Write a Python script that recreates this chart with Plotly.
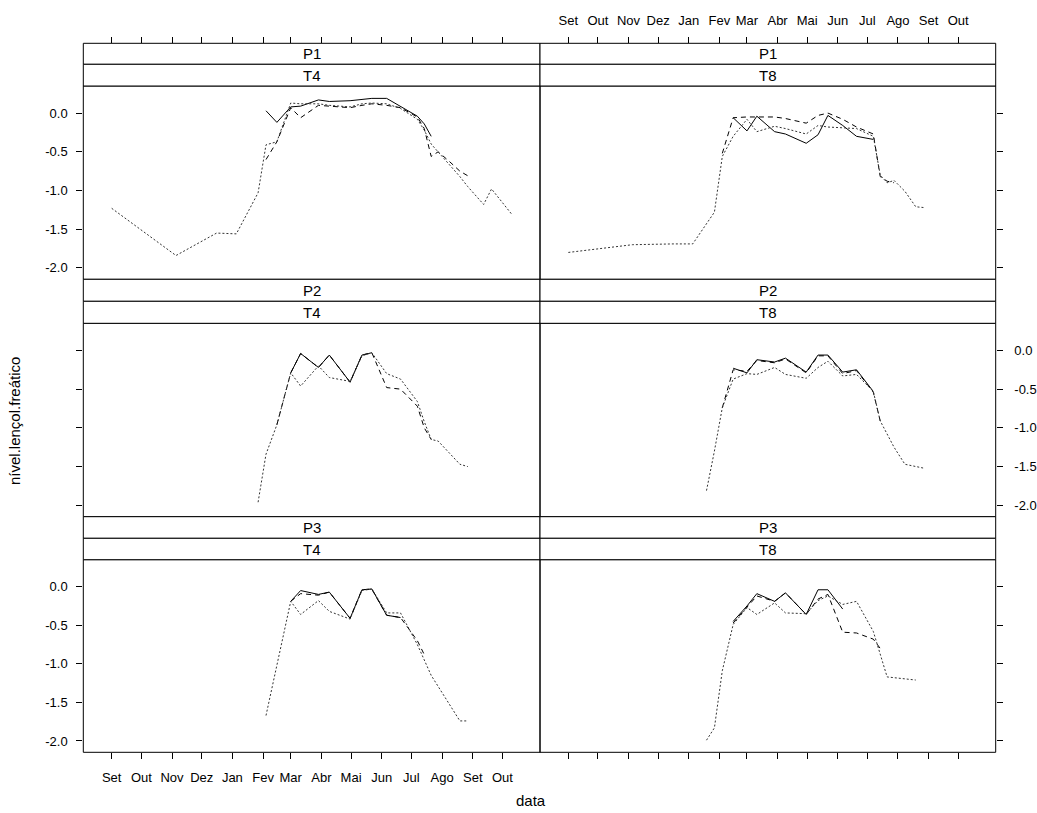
import plotly.graph_objects as go

W, H = 1037, 813
N = None

# sampling dates (common grid)
datas = [
    "2008-09-01", "2008-11-05", "2008-12-16", "2009-01-05", "2009-01-19",
    "2009-01-27", "2009-02-04", "2009-02-15", "2009-03-01", "2009-03-11",
    "2009-03-29", "2009-04-09", "2009-04-30", "2009-05-12", "2009-05-22",
    "2009-06-06", "2009-06-20", "2009-07-07", "2009-07-14", "2009-07-21",
    "2009-07-28", "2009-08-08", "2009-08-19", "2009-08-27", "2009-09-12",
    "2009-09-20", "2009-10-10",
]

meses_tick = ["2008-09-01", "2008-10-01", "2008-11-01", "2008-12-01", "2009-01-01",
              "2009-02-01", "2009-03-01", "2009-04-01", "2009-05-01", "2009-06-01",
              "2009-07-01", "2009-08-01", "2009-09-01", "2009-10-01"]
meses_rot = ["Set", "Out", "Nov", "Dez", "Jan", "Fev", "Mar", "Abr", "Mai", "Jun",
             "Jul", "Ago", "Set", "Out"]

y_tick = [0.0, -0.5, -1.0, -1.5, -2.0]
y_rot = ["0.0", "-0.5", "-1.0", "-1.5", "-2.0"]

parcelas = ["P1", "P2", "P3"]
tratamentos = ["T4", "T8"]

#                 0    1      2      3      4      5      6      7      8      9      10     11     12     13     14     15     16     17     18     19     20     21     22     23     24     25     26
p1_t4_s1 = [N,    N,     N,     N,     N,     N,     0.03, -0.12,  0.08,  0.09,  0.17,  0.15,  0.16,  0.18,  0.19,  0.19,  0.09, -0.04, -0.14, -0.30,  N,     N,     N,     N,     N,     N,     N]
p1_t4_s2 = [N,    N,     N,     N,     N,     N,    -0.60, -0.37,  0.07, -0.06,  0.10,  0.09,  0.07,  0.10,  0.12,  0.10,  0.07, -0.05, -0.20, -0.56, -0.50, -0.62, -0.75, -0.81,  N,     N,     N]
p1_t4_s3 = [-1.23, -1.84, -1.55, -1.56, N,    -1.03, -0.41, -0.37,  0.13,  0.12,  0.12,  0.10,  0.08,  0.12,  0.13,  0.12,  0.06, -0.08, -0.22, -0.40, -0.50, -0.65, -0.82, -0.95, -1.18, -0.98, -1.30]

p1_t8_s1 = [N,    N,     N,     N,     N,     N,     N,    -0.06, -0.23, -0.04, -0.24, -0.27, -0.39, -0.28, -0.03, -0.16, -0.30, -0.34,  N,     N,     N,     N,     N,     N,     N,     N,     N]
p1_t8_s2 = [N,    N,     N,     N,     N,     N,    -0.52, -0.06, -0.05, -0.05, -0.05, -0.07, -0.13, -0.03,  0.00, -0.08, -0.18, -0.27, -0.82, -0.88, -0.90,  N,     N,     N,     N,     N,     N]
p1_t8_s3 = [-1.80, -1.70, -1.69, -1.69, N,    -1.28, -0.56, -0.30, -0.08, -0.24, -0.17, -0.20, -0.27, -0.16, -0.18, -0.19, -0.20, -0.30, -0.80, -0.90, -0.87, -1.01, -1.21, -1.22,  N,     N,     N]

p2_t4_s1 = [N,    N,     N,     N,     N,     N,     N,     N,    -0.29, -0.04, -0.22, -0.06, -0.41, -0.06, -0.03,  N,     N,     N,     N,     N,     N,     N,     N,     N,     N,     N,     N]
p2_t4_s2 = [N,    N,     N,     N,     N,     N,     N,    -0.96, -0.29, -0.04, -0.22, -0.06, -0.41, -0.06, -0.03, -0.48, -0.50, -0.72, -1.00, -1.15,  N,     N,     N,     N,     N,     N,     N]
p2_t4_s3 = [N,    N,     N,     N,     N,    -1.96, -1.34, -0.96, -0.29, -0.46, -0.20, -0.35, -0.40, -0.07, -0.03, -0.30, -0.37, -0.66, -0.92, -1.15, -1.17, -1.32, -1.47, -1.50,  N,     N,     N]

p2_t8_s1 = [N,    N,     N,     N,     N,     N,     N,    -0.23, -0.29, -0.12, -0.15, -0.10, -0.28, -0.06, -0.06, -0.28, -0.25, -0.53,  N,     N,     N,     N,     N,     N,     N,     N,     N]
p2_t8_s2 = [N,    N,     N,     N,     N,     N,    -0.74, -0.25, -0.27, -0.13, -0.16, -0.11, -0.29, -0.07, -0.07, -0.30, -0.26, -0.54, -0.91,  N,     N,     N,     N,     N,     N,     N,     N]
p2_t8_s3 = [N,    N,     N,     N,    -1.81, -1.30, -0.74, -0.37, -0.30, -0.31, -0.22, -0.31, -0.36, -0.22, -0.14, -0.33, -0.31, -0.53, -0.91, -1.09, -1.25, -1.47, -1.50, -1.52,  N,     N,     N]

p3_t4_s1 = [N,    N,     N,     N,     N,     N,     N,     N,    -0.19, -0.05, -0.10, -0.07, -0.41, -0.04, -0.03, -0.37, -0.40,  N,     N,     N,     N,     N,     N,     N,     N,     N,     N]
p3_t4_s2 = [N,    N,     N,     N,     N,     N,     N,     N,    -0.19, -0.09, -0.11, -0.07, -0.41, -0.04, -0.03, -0.37, -0.40, -0.70, -0.88,  N,     N,     N,     N,     N,     N,     N,     N]
p3_t4_s3 = [N,    N,     N,     N,     N,     N,    -1.67,  N,    -0.19, -0.36, -0.18, -0.32, -0.42, -0.05, -0.03, -0.34, -0.34, -0.75, -0.95, -1.15,  N,     N,    -1.74, -1.74,  N,     N,     N]

p3_t8_s1 = [N,    N,     N,     N,     N,     N,     N,    -0.45, -0.25, -0.09, -0.19, -0.08, -0.36, -0.04, -0.04, -0.29,  N,     N,     N,     N,     N,     N,     N,     N,     N,     N,     N]
p3_t8_s2 = [N,    N,     N,     N,     N,     N,     N,    -0.47, -0.27, -0.12, -0.19, -0.08, -0.36, -0.16, -0.10, -0.59, -0.60, -0.68, -0.80,  N,     N,     N,     N,     N,     N,     N,     N]
p3_t8_s3 = [N,    N,     N,     N,    -1.99, -1.83, -1.09, -0.49, -0.27, -0.36, -0.21, -0.34, -0.35, -0.18, -0.12, -0.23, -0.19, -0.58,  N,    -1.17,  N,     N,    -1.21,  N,     N,     N,     N]

series = {
    (0, 0): [p1_t4_s1, p1_t4_s2, p1_t4_s3],
    (0, 1): [p1_t8_s1, p1_t8_s2, p1_t8_s3],
    (1, 0): [p2_t4_s1, p2_t4_s2, p2_t4_s3],
    (1, 1): [p2_t8_s1, p2_t8_s2, p2_t8_s3],
    (2, 0): [p3_t4_s1, p3_t4_s2, p3_t4_s3],
    (2, 1): [p3_t8_s1, p3_t8_s2, p3_t8_s3],
}
estilos = [
    dict(color="black", width=1, dash="solid"),
    dict(color="black", width=1, dash="5px,4px"),
    dict(color="#333333", width=1, dash="2px,2px"),
]

# layout geometry (pixels)
col_x = [(83.3, 540.0), (540.0, 995.7)]
row_y = [(86.0, 279.3), (323.3, 516.7), (559.7, 752.3)]
strip_y = [(43.3, 64.3, 86.0), (279.3, 301.3, 323.3), (516.7, 538.3, 559.7)]

x_range = ["2008-08-03 07:00", "2009-11-08 00:00"]
y_range = [-2.147, 0.35]
FONT = "Liberation Sans, Arial, Helvetica, sans-serif"
TICK_FS = 13

fig = go.Figure()
layout = dict(
    width=W, height=H, margin=dict(l=0, r=0, t=0, b=0),
    paper_bgcolor="white", plot_bgcolor="white", showlegend=False,
    font=dict(family=FONT, color="black", size=12),
)
shapes = []
annotations = []

for r in range(3):
    for c in range(2):
        k = r * 2 + c + 1
        xa = "x" if k == 1 else f"x{k}"
        ya = "y" if k == 1 else f"y{k}"
        x0, x1 = col_x[c]
        y0, y1 = row_y[r]
        xd = dict(
            domain=[x0 / W, x1 / W], range=x_range, type="date",
            tickmode="array", tickvals=meses_tick, ticktext=meses_rot,
            showgrid=False, zeroline=False, showline=False,
            tickcolor="black", tickwidth=1, ticklen=6,
            tickfont=dict(size=TICK_FS, family=FONT, color="black"),
        )
        if r == 0:
            xd.update(anchor="free", position=1 - strip_y[0][0] / H, side="top",
                      ticks="outside", showticklabels=(c == 1), ticklabelstandoff=7)
        elif r == 1:
            xd.update(anchor=ya, ticks="", showticklabels=False)
        else:
            xd.update(anchor=ya, side="bottom", ticks="outside",
                      showticklabels=(c == 0), ticklabelstandoff=7)
        yd = dict(
            domain=[1 - y1 / H, 1 - y0 / H], range=y_range, anchor=xa,
            tickmode="array", tickvals=y_tick, ticktext=y_rot,
            showgrid=False, zeroline=False, showline=False,
            ticks="outside", tickcolor="black", tickwidth=1, ticklen=6,
            side="left" if c == 0 else "right",
            showticklabels=((c == 0 and r != 1) or (c == 1 and r == 1)),
            tickfont=dict(size=TICK_FS, family=FONT, color="black"),
            ticklabelstandoff=(6 if c == 0 else 9),
        )
        layout["xaxis" if k == 1 else f"xaxis{k}"] = xd
        layout["yaxis" if k == 1 else f"yaxis{k}"] = yd

        for s, vals in enumerate(series[(r, c)]):
            fig.add_trace(go.Scatter(
                x=datas, y=vals, mode="lines", line=estilos[s],
                connectgaps=True, xaxis=xa, yaxis=ya, hoverinfo="skip",
            ))

        # panel border
        shapes.append(dict(type="rect", xref="paper", yref="paper",
                           x0=x0 / W, x1=x1 / W, y0=1 - y1 / H, y1=1 - y0 / H,
                           line=dict(color="black", width=1)))
        # strips
        sa, sb, sc = strip_y[r]
        for (ta, tb), txt in [((sa, sb), parcelas[r]), ((sb, sc), tratamentos[c])]:
            shapes.append(dict(type="rect", xref="paper", yref="paper",
                               x0=x0 / W, x1=x1 / W, y0=1 - tb / H, y1=1 - ta / H,
                               fillcolor="white", line=dict(color="black", width=1)))
            annotations.append(dict(xref="paper", yref="paper",
                                    x=(x0 + x1) / 2 / W, y=1 - (ta + tb) / 2 / H,
                                    text=txt, showarrow=False,
                                    xanchor="center", yanchor="middle",
                                    font=dict(size=15, family=FONT, color="black")))

annotations.append(dict(xref="paper", yref="paper", x=14 / W, y=1 - 421 / H,
                        text="nível.lençol.freático", textangle=-90, showarrow=False,
                        xanchor="center", yanchor="middle",
                        font=dict(size=15, family=FONT, color="black")))
annotations.append(dict(xref="paper", yref="paper", x=531 / W, y=1 - 800 / H,
                        text="data", showarrow=False,
                        xanchor="center", yanchor="middle",
                        font=dict(size=15, family=FONT, color="black")))

layout["shapes"] = shapes
layout["annotations"] = annotations
fig.update_layout(**layout)
fig.write_html("out.html")
